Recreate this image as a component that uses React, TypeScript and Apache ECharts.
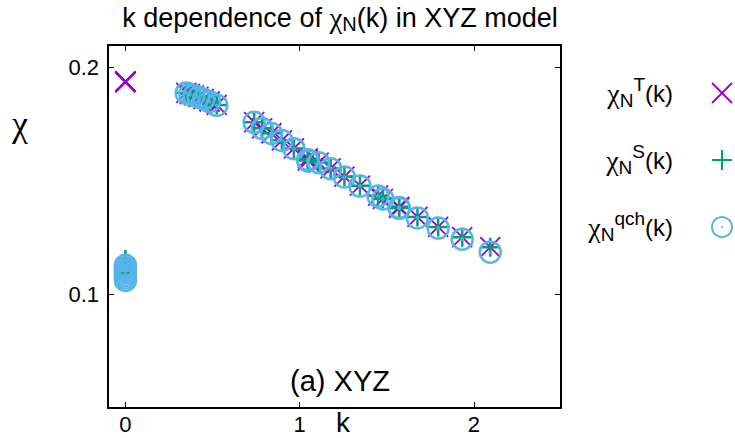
import { useEffect, useRef } from "react";
import * as echarts from "echarts";

// k values (k = 0 points and the finite-k points)
const kValues = [
  0, 0, 0, 0, 0, 0, 0,
  0.349, 0.37, 0.393, 0.419, 0.449, 0.483, 0.524,
  0.739, 0.785, 0.838, 0.898, 0.967, 1.047, 1.047, 1.109, 1.178, 1.257,
  1.346, 1.45, 1.478, 1.571, 1.571, 1.676, 1.795, 1.933, 2.094,
];
const chiT = [
  0.194, 0.1939, 0.1938, 0.1938, 0.1937, 0.1937, 0.1936,
  0.1889, 0.1884, 0.1878, 0.1871, 0.1862, 0.1851, 0.1836,
  0.176, 0.1733, 0.1711, 0.168, 0.1644, 0.16, 0.1591, 0.1582, 0.1556, 0.152,
  0.148, 0.1436, 0.1422, 0.1387, 0.1382, 0.1342, 0.1298, 0.1253, 0.1209,
];
const chiS = [
  0.1155, 0.1142, 0.113, 0.1119, 0.1108, 0.1097, 0.1087,
  0.1889, 0.1884, 0.1878, 0.1871, 0.1862, 0.1851, 0.1836,
  0.176, 0.1733, 0.1711, 0.168, 0.1644, 0.1598, 0.1591, 0.1582, 0.1556, 0.152,
  0.148, 0.1436, 0.1422, 0.1387, 0.1382, 0.1342, 0.1298, 0.1253, 0.1209,
];
const chiQ = [
  0.1129, 0.1118, 0.1107, 0.1096, 0.1084, 0.1073, 0.1062,
  0.1888, 0.1883, 0.1877, 0.187, 0.1861, 0.185, 0.1834,
  0.1759, 0.1732, 0.171, 0.1679, 0.1643, 0.1594, 0.1589, 0.1581, 0.1555, 0.1518,
  0.1478, 0.1434, 0.1421, 0.1384, 0.138, 0.1338, 0.1293, 0.1244, 0.1187,
];
const xTicks = [0, 1, 2];
const yTicks = [0.1, 0.2];
const seriesNames = ["χN T(k)", "χN S(k)", "χN qch(k)"];
const legendSup = ["T", "S", "qch"];

const COLORS = ["#9400d3", "#009e73", "#56b4e9"];
const FONT = "Liberation Sans";
const GREEK = "Liberation Serif";

const SYM_X = "path://M0,0L20,20M20,0L0,20";
const SYM_PLUS = "path://M10,0L10,20M0,10L20,10";
const SYM_CIRC =
  "path://M0,10A10,10,0,1,1,20,10A10,10,0,1,1,0,10ZM9.4,10A0.6,0.6,0,1,1,10.6,10A0.6,0.6,0,1,1,9.4,10Z";

export default function App() {
  const ref = useRef<HTMLDivElement>(null);
  useEffect(() => {
    if (!ref.current) return;
    const chart = echarts.init(ref.current, undefined, { renderer: "svg" });
    const pairs = (ys: number[]) => kValues.map((k, i) => [k, ys[i]]);
    const symbols = [SYM_X, SYM_PLUS, SYM_CIRC];
    const widths = [1.8, 2.5, 2.5];
    const sizes = [20, 19, 21];
    const data = [chiT, chiS, chiQ];

    const axisLine = { show: true, onZero: false, lineStyle: { color: "#000", width: 2 } };
    const tickStyle = { color: "#000", width: 1 };

    const legendRows = [93, 160, 227];
    const legendGraphics: any[] = [];
    legendRows.forEach((y, i) => {
      legendGraphics.push({
        type: "text",
        x: 673,
        y,
        style: {
          text: `{g|χ}{sub|N}{sup|${legendSup[i]}}{a|(k)}`,
          align: "right",
          verticalAlign: "middle",
          fill: "#000",
          rich: {
            g: { fontFamily: GREEK, fontSize: 28, fill: "#000" },
            sub: { fontFamily: FONT, fontSize: 19, padding: [14, 0, 0, 0], fill: "#000" },
            sup: { fontFamily: FONT, fontSize: 19, padding: [0, 0, 18, 0], fill: "#000" },
            a: { fontFamily: FONT, fontSize: 24, fill: "#000" },
          },
        },
      });
      const cx = 722;
      if (i === 0) {
        legendGraphics.push(
          { type: "line", shape: { x1: cx - 10, y1: y - 10, x2: cx + 10, y2: y + 10 }, style: { stroke: COLORS[0], lineWidth: 1.8 } },
          { type: "line", shape: { x1: cx + 10, y1: y - 10, x2: cx - 10, y2: y + 10 }, style: { stroke: COLORS[0], lineWidth: 1.8 } }
        );
      } else if (i === 1) {
        legendGraphics.push(
          { type: "line", shape: { x1: cx - 10, y1: y, x2: cx + 10, y2: y }, style: { stroke: COLORS[1], lineWidth: 2 } },
          { type: "line", shape: { x1: cx, y1: y - 10, x2: cx, y2: y + 10 }, style: { stroke: COLORS[1], lineWidth: 2 } }
        );
      } else {
        legendGraphics.push(
          { type: "circle", shape: { cx, cy: y, r: 10 }, style: { fill: "none", stroke: COLORS[2], lineWidth: 2 } },
          { type: "circle", shape: { cx, cy: y, r: 1 }, style: { fill: COLORS[2] } }
        );
      }
    });

    chart.setOption({
      animation: false,
      backgroundColor: "#fff",
      title: {
        text: "{a|k dependence of }{g|χ}{sub|N}{a|(k) in XYZ model}",
        left: 335,
        top: -3,
        textAlign: "center",
        textStyle: {
          fontWeight: "normal",
          rich: {
            a: { fontFamily: FONT, fontSize: 27, fontWeight: "normal", color: "#000" },
            g: { fontFamily: GREEK, fontSize: 29, fontWeight: "normal", color: "#000" },
            sub: { fontFamily: FONT, fontSize: 20, fontWeight: "normal", color: "#000", padding: [12, 0, 0, 0] },
          },
        },
      },
      grid: { left: 108, right: 174, top: 45, bottom: 30, containLabel: false },
      xAxis: [
        {
          type: "value",
          position: "bottom",
          min: -0.1,
          max: 2.5,
          axisLine,
          axisTick: { show: true, inside: true, length: 6, customValues: xTicks, lineStyle: tickStyle },
          axisLabel: { customValues: xTicks, color: "#000", fontFamily: FONT, fontSize: 22, margin: 5 },
          splitLine: { show: false },
        },
        {
          type: "value",
          position: "top",
          min: -0.1,
          max: 2.5,
          axisLine,
          axisTick: { show: true, inside: true, length: 6, customValues: xTicks, lineStyle: tickStyle },
          axisLabel: { show: false },
          splitLine: { show: false },
        },
      ],
      yAxis: [
        {
          type: "value",
          position: "left",
          min: 0.05,
          max: 0.21,
          axisLine,
          axisTick: { show: true, inside: true, length: 6, customValues: yTicks, lineStyle: tickStyle },
          axisLabel: { customValues: yTicks, color: "#000", fontFamily: FONT, fontSize: 22, margin: 9 },
          splitLine: { show: false },
        },
        {
          type: "value",
          position: "right",
          min: 0.05,
          max: 0.21,
          axisLine,
          axisTick: { show: true, inside: true, length: 6, customValues: yTicks, lineStyle: tickStyle },
          axisLabel: { show: false },
          splitLine: { show: false },
        },
      ],
      series: data.map((ys, i) => ({
        type: "scatter",
        name: seriesNames[i],
        xAxisIndex: 0,
        yAxisIndex: 0,
        data: pairs(ys),
        symbol: symbols[i],
        symbolSize: sizes[i],
        itemStyle: { color: "transparent", borderColor: COLORS[i], borderWidth: widths[i], opacity: 1 },
        emphasis: { disabled: true },
        z: 2 + i,
      })),
      graphic: [
        {
          type: "text",
          x: 20,
          y: 124,
          style: { text: "χ", fontFamily: GREEK, fontSize: 36, fill: "#000", align: "center", verticalAlign: "middle" },
        },
        {
          type: "text",
          x: 343,
          y: 422,
          style: { text: "k", fontFamily: FONT, fontSize: 28, fill: "#000", align: "center", verticalAlign: "middle" },
        },
        {
          type: "text",
          x: 340,
          y: 381,
          style: { text: "(a) XYZ", fontFamily: FONT, fontSize: 29, fill: "#000", align: "center", verticalAlign: "middle" },
        },
        ...legendGraphics,
      ],
    });
    return () => chart.dispose();
  }, []);
  return <div ref={ref} style={{ position: "absolute", left: 0, top: 0, width: 735, height: 438 }} />;
}
